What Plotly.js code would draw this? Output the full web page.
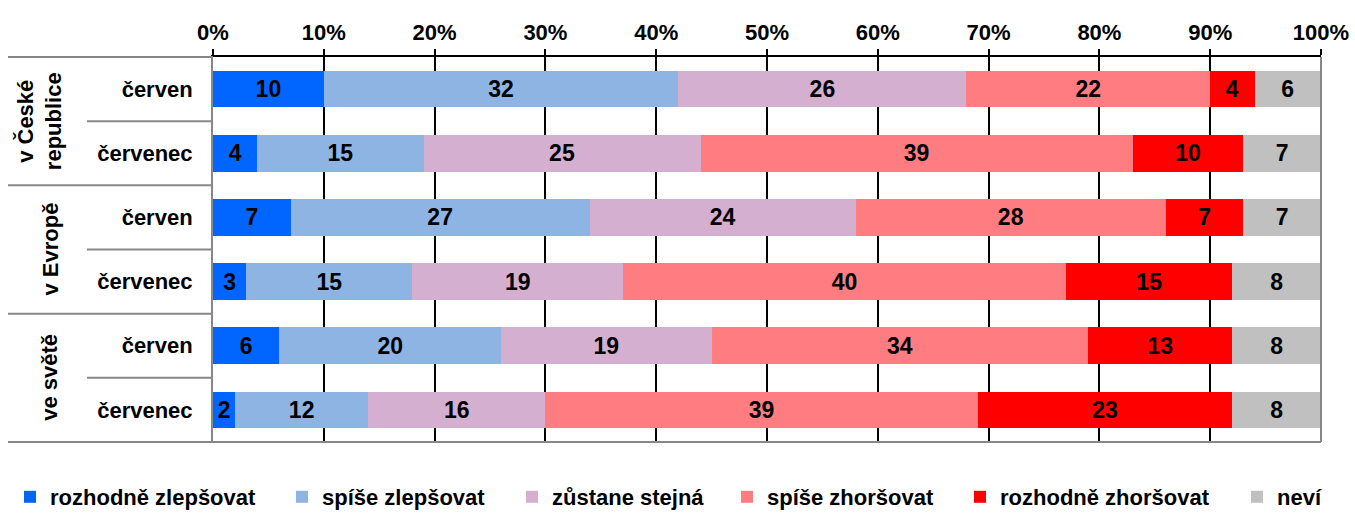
<!DOCTYPE html>
<html>
<head>
<meta charset="utf-8">
<script src="https://cdn.plot.ly/plotly-3.0.1.min.js"></script>
<style>html,body{margin:0;padding:0;background:#fff;}#chart{width:1355px;height:513px;}</style>
</head>
<body>
<div id="chart"></div>
<script>
// Data
const groups = ["v České<br>republice", "v Evropě", "ve světě"];
const months = ["červen", "červenec"];
const seriesNames = ["rozhodně zlepšovat", "spíše zlepšovat", "zůstane stejná", "spíše zhoršovat", "rozhodně zhoršovat", "neví"];
const seriesColors = ["#0066FF", "#8EB4E3", "#D5AFD0", "#FF7C80", "#FF0000", "#C0C0C0"];
// rows: CZ červen, CZ červenec, EU červen, EU červenec, World červen, World červenec
const rozhodneZlepsovat = [10, 4, 7, 3, 6, 2];
const spiseZlepsovat    = [32, 15, 27, 15, 20, 12];
const zustaneStejna     = [26, 25, 24, 19, 19, 16];
const spiseZhorsovat    = [22, 39, 28, 40, 34, 39];
const rozhodneZhorsovat = [4, 10, 7, 15, 13, 23];
const nevi              = [6, 7, 7, 8, 8, 8];
const xTicks = [0, 10, 20, 30, 40, 50, 60, 70, 80, 90, 100];

const seriesValues = [rozhodneZlepsovat, spiseZlepsovat, zustaneStejna, spiseZhorsovat, rozhodneZhorsovat, nevi];

// legend entry positions (pixel x of each entry's left edge)
const legendLeftPx = [10, 282, 512, 727, 960, 1237];

const rowKeys = [], rowLabels = [];
groups.forEach((g, gi) => months.forEach((m, mi) => { rowKeys.push(gi + "|" + m); rowLabels.push(m); }));

const BOLD = {family: "Liberation Sans, Arial, sans-serif", color: "#000", weight: "bold"};
const legendId = i => i === 0 ? "legend" : "legend" + (i + 1);

const traces = seriesNames.map((name, i) => ({
  type: "bar",
  orientation: "h",
  name: name,
  legend: legendId(i),
  y: rowKeys,
  x: seriesValues[i],
  text: seriesValues[i].map(String),
  textposition: "inside",
  insidetextanchor: "middle",
  textangle: 0,
  constraintext: "none",
  textfont: Object.assign({}, BOLD, {size: 23}),
  marker: {color: seriesColors[i], line: {width: 0}},
  hoverinfo: "name+x"
}));

const W = 1355, H = 513, mL = 213, mR = 34, mT = 57, mB = 71;
const plotW = W - mL - mR, plotH = H - mT - mB;
const px2x = p => (p - mL) / plotW;
const nRows = rowKeys.length;
const grey = "#878787";

const shapes = [
  {type: "line", xref: "paper", yref: "paper", x0: px2x(8), x1: 1, y0: 0, y1: 0, line: {color: grey, width: 2}},
  {type: "line", xref: "paper", yref: "paper", x0: 1, x1: 1, y0: 0, y1: 1, line: {color: grey, width: 2}},
  {type: "line", xref: "paper", yref: "paper", x0: px2x(8), x1: 0, y0: 1, y1: 1, line: {color: grey, width: 2}}
];
for (let r = 1; r < nRows; r++) {
  const isGroupBoundary = r % months.length === 0;
  shapes.push({type: "line", xref: "paper", yref: "paper",
    x0: isGroupBoundary ? px2x(8) : px2x(87), x1: 0,
    y0: 1 - r / nRows, y1: 1 - r / nRows, line: {color: grey, width: 2}});
}

const annotations = groups.map((g, gi) => ({
  xref: "paper", yref: "paper",
  x: g.indexOf("<br>") >= 0 ? px2x(40) : px2x(50),
  y: 1 - (gi * months.length + months.length / 2) / nRows,
  text: g, textangle: -90, showarrow: false,
  xanchor: "center", yanchor: "middle",
  font: Object.assign({}, BOLD, {size: 22})
}));

const layout = {
  width: W, height: H,
  margin: {l: mL, r: mR, t: mT, b: mB, pad: 0, autoexpand: false},
  paper_bgcolor: "#fff", plot_bgcolor: "#fff",
  barmode: "stack",
  bargap: 0.43,
  showlegend: true,
  xaxis: {side: "top", range: [0, 100], tickvals: xTicks, ticktext: xTicks.map(v => v + "%"),
    showline: true, linecolor: "#000", linewidth: 2, ticks: "outside", ticklen: 6, tickwidth: 2, tickcolor: "#000",
    showgrid: true, gridcolor: "#000", gridwidth: 2, zeroline: false, fixedrange: true, automargin: false,
    tickfont: Object.assign({}, BOLD, {size: 22})},
  yaxis: {type: "category", categoryorder: "array", categoryarray: rowKeys, autorange: "reversed",
    tickvals: rowKeys, ticktext: rowLabels, showline: true, linecolor: grey, linewidth: 2, ticks: "",
    ticklabelstandoff: 14, showgrid: false, zeroline: false, fixedrange: true, automargin: false,
    tickfont: Object.assign({}, BOLD, {size: 22})},
  shapes: shapes,
  annotations: annotations
};
seriesNames.forEach((n, i) => {
  layout[legendId(i)] = {orientation: "h", xref: "container", yref: "container",
    x: legendLeftPx[i] / W, xanchor: "left", y: (H - 497) / H, yanchor: "middle",
    font: Object.assign({}, BOLD, {size: 22}), itemwidth: 30, bgcolor: "rgba(0,0,0,0)"};
});

Plotly.newPlot("chart", traces, layout, {displayModeBar: false, staticPlot: true});
</script>
</body>
</html>
